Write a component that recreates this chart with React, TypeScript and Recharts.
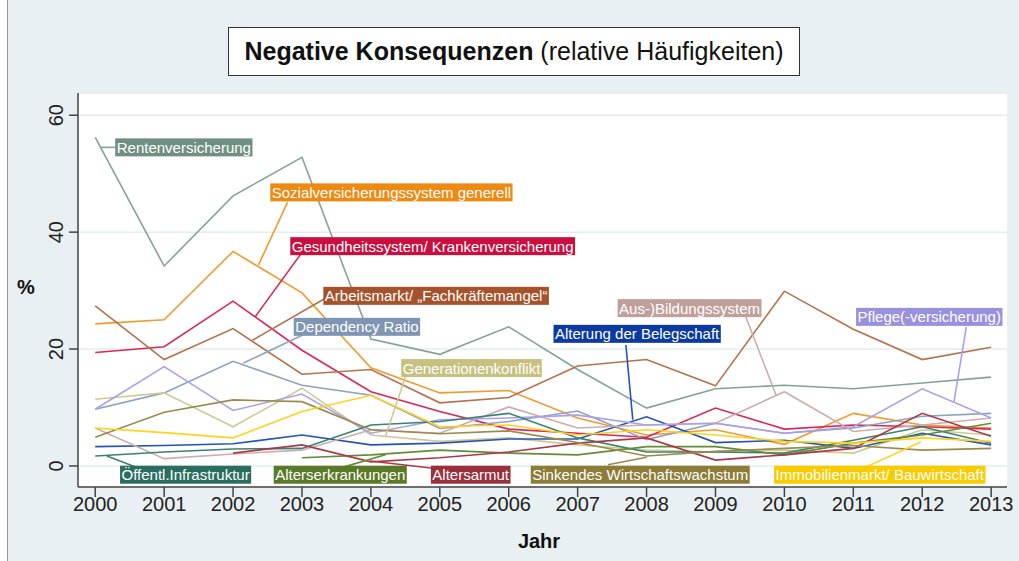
import React from 'react';
import { LineChart, Line, XAxis, YAxis, CartesianGrid, ReferenceLine, ReferenceDot } from 'recharts';

// ---------- data ----------
const years = [2000, 2001, 2002, 2003, 2004, 2005, 2006, 2007, 2008, 2009, 2010, 2011, 2012, 2013];

const rentenversicherung = [56.2, 34.2, 46.2, 52.8, 21.7, 19.1, 23.8, 16.5, 9.9, 13.2, 13.8, 13.2, 14.2, 15.2];
const sozialversicherung = [24.3, 25.0, 36.7, 29.6, 16.8, 12.5, 12.9, 8.2, 5.3, 6.2, 3.7, 9.0, 7.0, 6.5];
const gesundheitssystem = [19.4, 20.4, 28.2, 19.8, 12.7, 9.3, 6.3, 5.6, 4.9, 9.9, 6.3, 7.0, 6.7, 6.3];
const arbeitsmarkt = [27.4, 18.2, 23.5, 15.7, 16.5, 10.8, 11.7, 17.1, 18.2, 13.7, 29.9, 23.4, 18.2, 20.3];
const dependencyRatio = [9.7, 12.5, 17.9, 13.8, 12.1, 6.4, 7.6, 9.4, 4.5, 7.3, 5.6, 6.5, 8.5, 9.0];
const generationenkonflikt = [11.4, 12.5, 6.7, 13.3, 5.3, 4.2, 4.8, 3.6, 2.7, 2.4, 2.7, 2.2, 6.2, 5.3];
const alterungBelegschaft = [3.3, 3.5, 3.8, 5.3, 3.6, 3.9, 4.6, 4.6, 8.4, 4.0, 4.4, 3.0, 5.6, 3.6];
const bildungssystem = [6.5, 1.25, 2.05, 2.7, 6.2, 5.6, 10.1, 6.5, 7.0, 7.3, 12.7, 5.9, 7.0, 8.2];
const pflege = [9.7, 17.0, 9.5, 12.3, 5.6, 7.9, 8.2, 8.7, 7.0, 7.3, 5.6, 6.7, 13.2, 8.2];
const infrastruktur = [1.7, 2.4, 2.9, 3.0, 7.0, 7.6, 9.0, 4.8, 2.4, 2.4, 2.2, 4.4, 6.7, 3.9];
const alterserkrankungen = [null, null, null, 1.4, 1.9, 2.7, 2.2, 1.9, 3.3, 3.3, 1.9, 3.9, 5.3, 7.3];
const altersarmut = [null, null, 2.2, 3.6, 0.7, 1.4, 2.4, 3.9, 4.8, 1.0, 1.9, 3.0, 9.0, 5.1];
const wirtschaftswachstum = [4.9, 9.2, 11.3, 11.0, 6.2, 5.5, 6.0, 4.0, 1.7, 2.5, 3.0, 3.5, 2.7, 3.0];
const immobilienmarkt = [6.5, 5.7, 4.8, 9.3, 12.1, 6.7, 7.0, 5.3, 6.2, 5.3, 4.2, 3.9, 4.8, 4.2];

const yTicks = [0, 20, 40, 60];
const xTicks = years;

const titleBold = 'Negative Konsequenzen';
const titleRest = ' (relative Häufigkeiten)';
const yAxisTitle = '%';
const xAxisTitle = 'Jahr';

// ---------- series config ----------
type Series = {
  key: string;
  name: string;
  values: (number | null)[];
  line: string;
  bg: string;
  at: [number, number];
  leader: [[number, number], [number, number]];
};

const series: Series[] = [
  { key: 'renten', name: 'Rentenversicherung', values: rentenversicherung, line: '#85a394', bg: '#6f9080', at: [2000.29, 54.5], leader: [[2000.07, 54.5], [2000.29, 54.5]] },
  { key: 'sozial', name: 'Sozialversicherungssystem generell', values: sozialversicherung, line: '#f29a2e', bg: '#ee8a12', at: [2002.54, 46.8], leader: [[2002.79, 45.1], [2002.37, 34.4]] },
  { key: 'gesund', name: 'Gesundheitssystem/ Krankenversicherung', values: gesundheitssystem, line: '#d8285a', bg: '#c80f40', at: [2002.83, 37.6], leader: [[2002.98, 36.2], [2002.32, 25.5]] },
  { key: 'arbeit', name: 'Arbeitsmarkt/ „Fachkräftemangel“', values: arbeitsmarkt, line: '#b4724c', bg: '#a5532c', at: [2003.31, 29.1], leader: [[2003.34, 28.7], [2002.28, 21.5]] },
  { key: 'depend', name: 'Dependency Ratio', values: dependencyRatio, line: '#8ea2bd', bg: '#7f95b4', at: [2002.88, 23.8], leader: [[2003.01, 22.4], [2002.15, 17.6]] },
  { key: 'gener', name: 'Generationenkonflikt', values: generationenkonflikt, line: '#cfca92', bg: '#c7c17f', at: [2004.44, 16.75], leader: [[2004.5, 15.2], [2004.21, 5.0]] },
  { key: 'alterung', name: 'Alterung der Belegschaft', values: alterungBelegschaft, line: '#2452b8', bg: '#0b3aa0', at: [2006.65, 22.6], leader: [[2007.7, 20.7], [2007.8, 7.9]] },
  { key: 'bildung', name: 'Aus-)Bildungssystem', values: bildungssystem, line: '#cbaeab', bg: '#c19f9b', at: [2007.58, 27.0], leader: [[2009.44, 25.5], [2009.88, 12.1]] },
  { key: 'pflege', name: 'Pflege(-versicherung)', values: pflege, line: '#aaa0ea', bg: '#9a91de', at: [2011.04, 25.5], leader: [[2012.64, 23.8], [2012.46, 10.9]] },
  { key: 'infra', name: 'Öffentl.Infrastruktur', values: infrastruktur, line: '#3a8272', bg: '#2b6e60', at: [2000.36, -1.5], leader: [[2000.17, 1.7], [2000.7, -0.7]] },
  { key: 'erkrank', name: 'Alterserkrankungen', values: alterserkrankungen, line: '#628c36', bg: '#5a7a28', at: [2002.59, -1.5], leader: [[2003.6, -0.2], [2004.21, 1.9]] },
  { key: 'armut', name: 'Altersarmut', values: altersarmut, line: '#aa3a4a', bg: '#99303c', at: [2004.87, -1.5], leader: [[2003.99, 0.85], [2004.87, -0.35]] },
  { key: 'wachstum', name: 'Sinkendes Wirtschaftswachstum', values: wirtschaftswachstum, line: '#9c8a4a', bg: '#8c7c38', at: [2006.32, -1.5], leader: [[2007.44, 0.2], [2008.0, 1.5]] },
  { key: 'immo', name: 'Immobilienmarkt/ Bauwirtschaft', values: immobilienmarkt, line: '#ffd21c', bg: '#f9cc00', at: [2009.85, -1.5], leader: [[2011.18, -0.2], [2011.98, 4.1]] },
];

const data = years.map((year, i) => {
  const row: Record<string, number | null> = { year };
  series.forEach((s) => {
    row[s.key] = s.values[i];
  });
  return row;
});

// ---------- helpers ----------
const FONT = '"Liberation Sans", Arial, Helvetica, sans-serif';
let measureCtx: CanvasRenderingContext2D | null = null;
function textWidth(s: string, size: number): number {
  if (!measureCtx) measureCtx = document.createElement('canvas').getContext('2d');
  if (!measureCtx) return s.length * size * 0.5;
  measureCtx.font = `${size}px ${FONT}`;
  return measureCtx.measureText(s).width;
}

const LabelBox = (props: any) => {
  const { cx, cy, text, bg } = props;
  if (cx == null || cy == null) return null;
  const w = textWidth(text, 15);
  return (
    <g>
      <rect x={cx} y={cy - 9} width={w + 3} height={18} fill={bg} />
      <text x={cx + 1.5} y={cy + 5.5} fill="#ffffff" fontSize={15} fontFamily={FONT}>
        {text}
      </text>
    </g>
  );
};

const YTick = (props: any) => {
  const { x, y, payload } = props;
  return (
    <text
      x={x}
      y={y}
      transform={`rotate(-90, ${x}, ${y})`}
      textAnchor="middle"
      fontSize={20}
      fontFamily={FONT}
      fill="#222"
    >
      {payload.value}
    </text>
  );
};

const XTick = (props: any) => {
  const { x, y, payload } = props;
  return (
    <text x={x} y={y + 14} textAnchor="middle" fontSize={20} fontFamily={FONT} fill="#222">
      {payload.value}
    </text>
  );
};

export default function App() {
  return (
    <div style={{ position: 'absolute', left: 0, top: 0, width: 1019, height: 561, background: '#ffffff', overflow: 'hidden' }}>
      <div
        style={{
          position: 'absolute',
          left: 7,
          top: 0,
          width: 1012,
          height: 561,
          background: '#e9f0f3',
          borderLeft: '1.5px solid #9a9a9a',
        }}
      />
      <div style={{ position: 'absolute', left: 0, top: 0 }}>
        <LineChart
          width={1019}
          height={561}
          data={data}
          margin={{ top: 93, right: 12, bottom: 34, left: 18 }}
        >
          <CartesianGrid horizontal vertical={false} fill="#ffffff" stroke="#e3ecef" strokeWidth={1.5} />
          <XAxis
            dataKey="year"
            type="number"
            domain={[1999.75, 2013.23]}
            ticks={xTicks}
            height={40}
            tickSize={10}
            tickMargin={0}
            tick={<XTick />}
            axisLine={{ stroke: '#444', strokeWidth: 1.5 }}
            tickLine={{ stroke: '#444', strokeWidth: 1.5 }}
            interval={0}
            allowDataOverflow
          />
          <YAxis
            type="number"
            domain={[-3.6, 63.8]}
            ticks={yTicks}
            width={60}
            tickSize={9}
            tickMargin={6}
            tick={<YTick />}
            axisLine={{ stroke: '#444', strokeWidth: 1.5 }}
            tickLine={{ stroke: '#444', strokeWidth: 1.5 }}
            allowDataOverflow
          />
          {series.map((s) => (
            <Line
              key={s.key}
              type="linear"
              dataKey={s.key}
              stroke={s.line}
              strokeWidth={1.6}
              dot={false}
              activeDot={false}
              isAnimationActive={false}
              connectNulls={false}
            />
          ))}
          {series.map((s) => (
            <ReferenceLine
              key={`ld-${s.key}`}
              segment={[
                { x: s.leader[0][0], y: s.leader[0][1] },
                { x: s.leader[1][0], y: s.leader[1][1] },
              ]}
              stroke={s.line}
              strokeWidth={1.6}
              ifOverflow="visible"
            />
          ))}
          {series.map((s) => (
            <ReferenceDot
              key={`lb-${s.key}`}
              x={s.at[0]}
              y={s.at[1]}
              r={0}
              ifOverflow="visible"
              shape={(p: any) => <LabelBox {...p} text={s.name} bg={s.bg} />}
            />
          ))}
        </LineChart>
      </div>
      <div
        style={{
          position: 'absolute',
          left: 228,
          top: 27,
          width: 572,
          height: 49,
          boxSizing: 'border-box',
          border: '1.5px solid #333',
          background: '#ffffff',
          display: 'flex',
          alignItems: 'center',
          justifyContent: 'center',
          fontFamily: FONT,
          fontSize: 25,
          color: '#111',
          whiteSpace: 'pre',
        }}
      >
        <span style={{ fontWeight: 'bold' }}>{titleBold}</span>
        <span>{titleRest}</span>
      </div>
      <div
        style={{
          position: 'absolute',
          left: 15,
          top: 276,
          width: 22,
          textAlign: 'center',
          fontFamily: FONT,
          fontSize: 20,
          fontWeight: 'bold',
          color: '#111',
        }}
      >
        {yAxisTitle}
      </div>
      <div
        style={{
          position: 'absolute',
          left: 489,
          top: 530,
          width: 100,
          textAlign: 'center',
          fontFamily: FONT,
          fontSize: 20,
          fontWeight: 'bold',
          color: '#111',
        }}
      >
        {xAxisTitle}
      </div>
    </div>
  );
}
